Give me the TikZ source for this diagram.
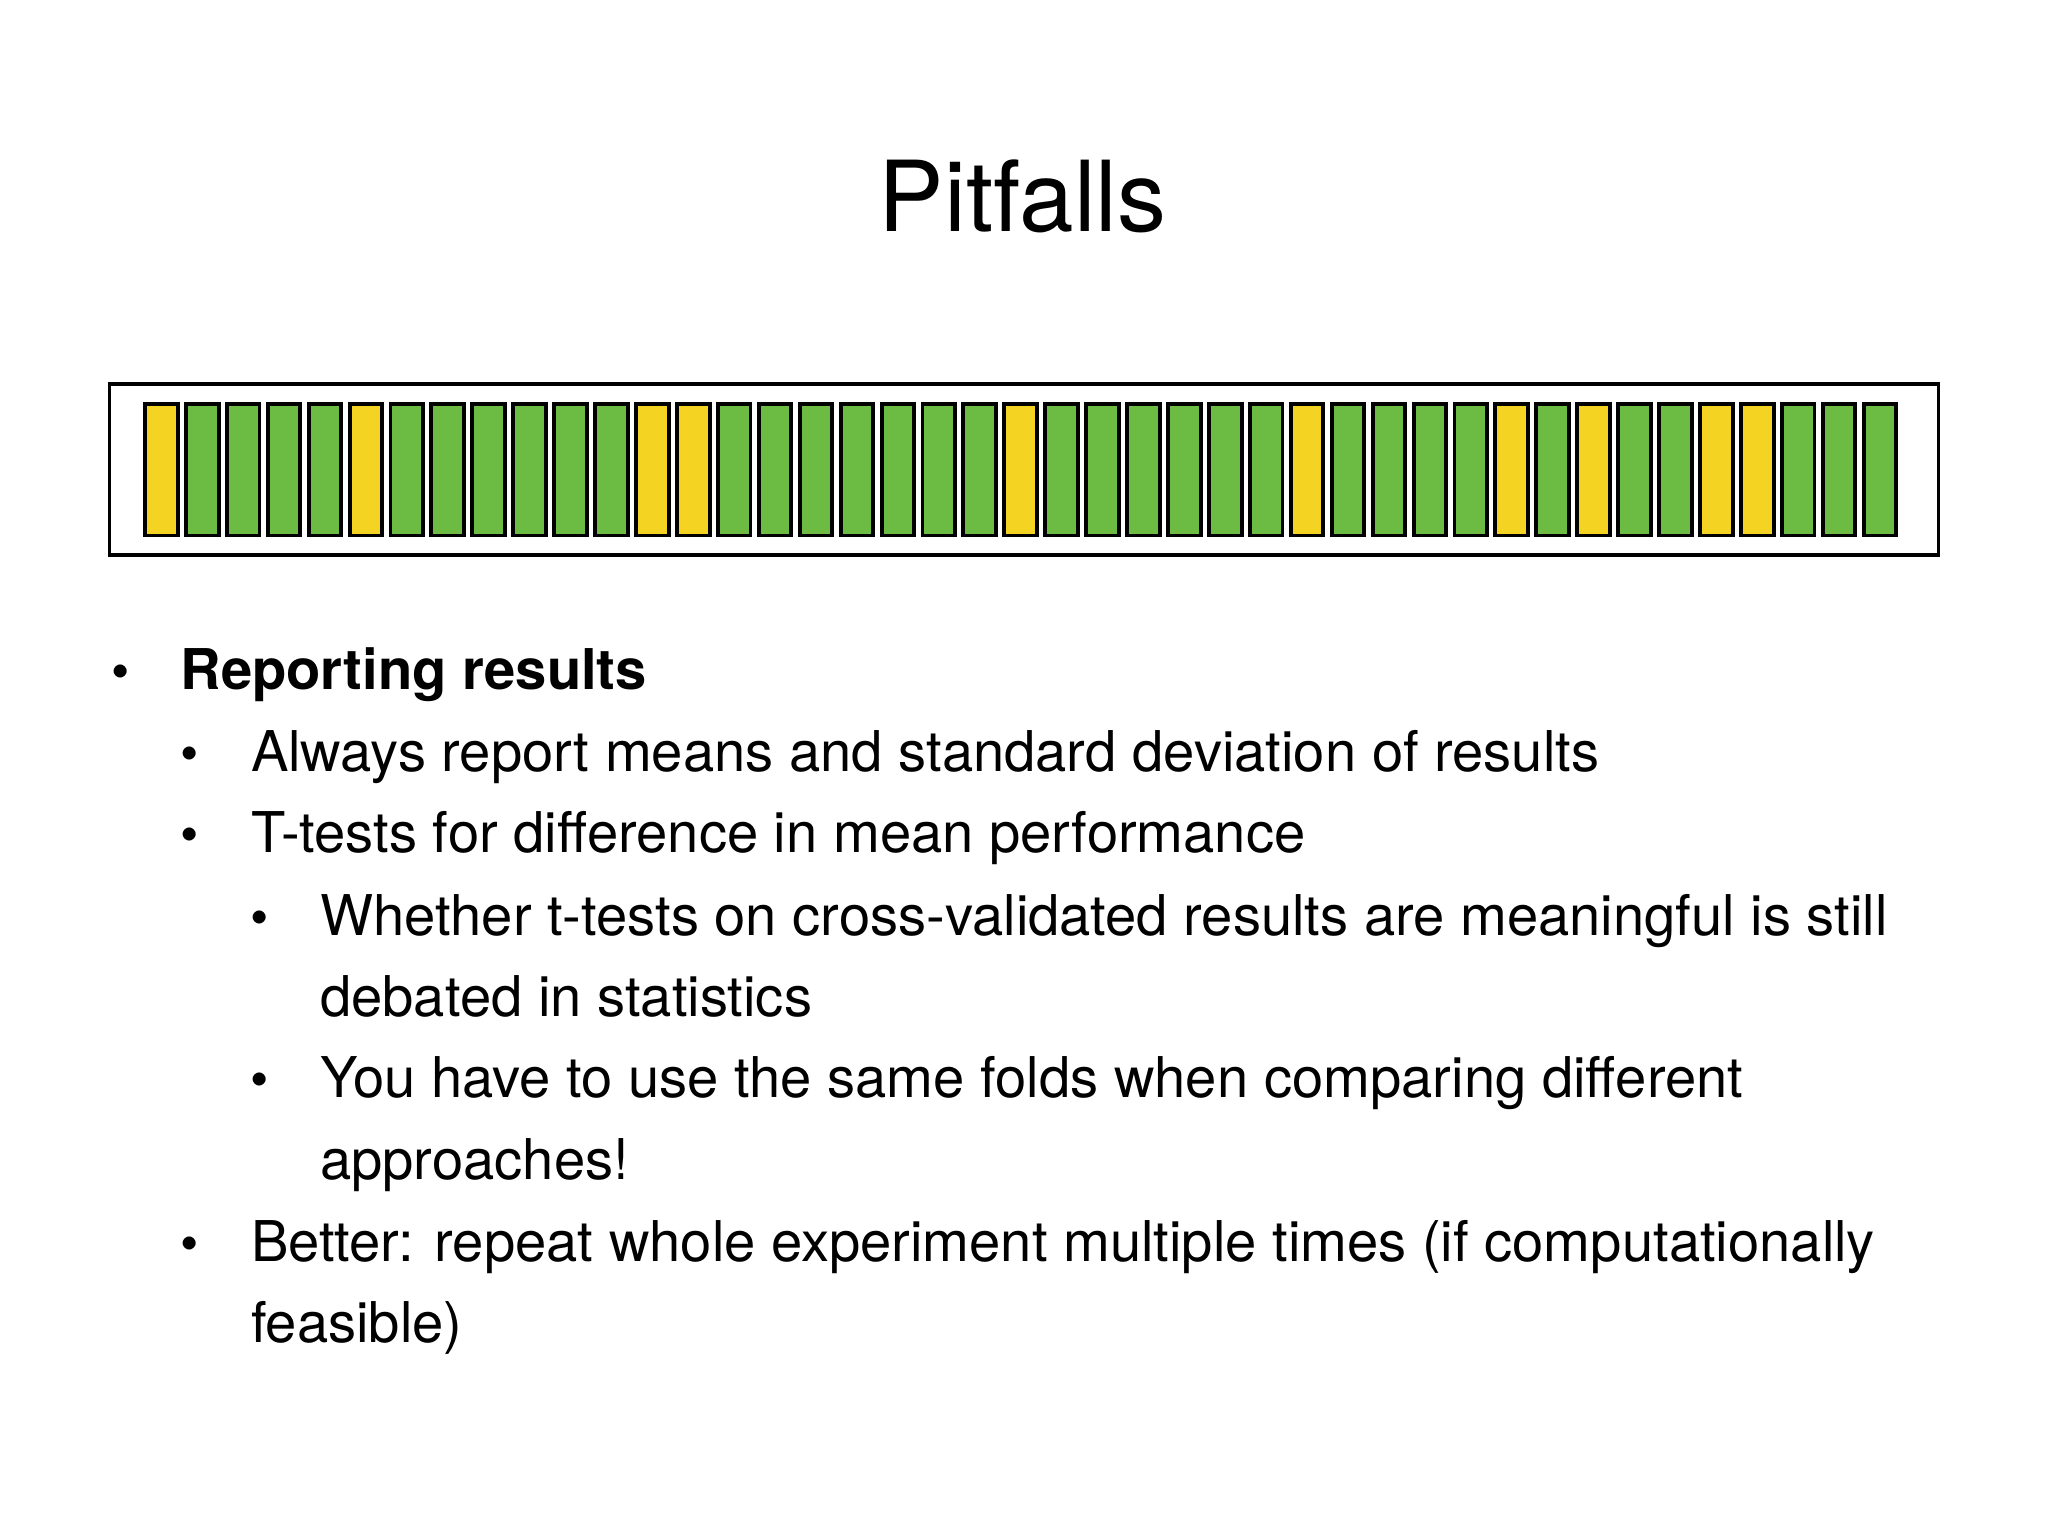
\documentclass[tikz,border=0pt]{standalone}
\usepackage{fontspec}
\setmainfont{TeX Gyre Heros}
\begin{document}
\begin{tikzpicture}[x=1pt,y=-1pt,
  bar/.style={draw=black,line width=3pt},
  txt/.style={anchor=base west,inner sep=0pt,font=\fontsize{43}{50}\selectfont},
  bul/.style={anchor=base,inner sep=0pt,font=\fontsize{40}{48}\selectfont}]
\useasboundingbox (0,0) rectangle (1568,1176);
\definecolor{gr}{RGB}{108,187,66}
\definecolor{ye}{RGB}{244,211,35}
\node[inner sep=0pt,font=\fontsize{75}{84}\selectfont] (title) at (783,150) {Pitfalls};
\draw[line width=2.6pt] (84,294) rectangle (1484,425);
\foreach \c [count=\i from 0] in {ye,gr,gr,gr,gr,ye,gr,gr,gr,gr,gr,gr,ye,ye,gr,gr,gr,gr,gr,gr,gr,ye,gr,gr,gr,gr,gr,gr,ye,gr,gr,gr,gr,ye,gr,ye,gr,gr,ye,ye,gr,gr,gr}{
  \pgfmathsetmacro\xx{111+\i*31.33}
  \draw[bar,fill=\c] (\xx,309) rectangle ++(25,101);
}
\node[bul] (b1) at (92,528) {•};
\node[txt,font=\fontsize{43}{50}\selectfont\bfseries] (t1) at (138,528) {Reporting results};
\node[bul] (b2) at (145,591) {•};
\node[txt] (t2) at (192,591) {Always report means and standard deviation of results};
\node[bul] (b3) at (145,653) {•};
\node[txt] (t3) at (192,653) {T-tests for difference in mean performance};
\node[bul] (b4) at (199,716) {•};
\node[txt] (t4) at (245,716) {Whether t-tests on cross-validated results are meaningful is still};
\node[txt] (t5) at (245,778) {debated in statistics};
\node[bul] (b6) at (199,840) {•};
\node[txt] (t6) at (245,840) {You have to use the same folds when comparing different};
\node[txt] (t7) at (245,903) {approaches!};
\node[bul] (b8) at (145,966) {•};
\node[txt] (t8) at (192,966) {Better: repeat whole experiment multiple times (if computationally};
\node[txt] (t9) at (192,1028) {feasible)};
\end{tikzpicture}
\end{document}
